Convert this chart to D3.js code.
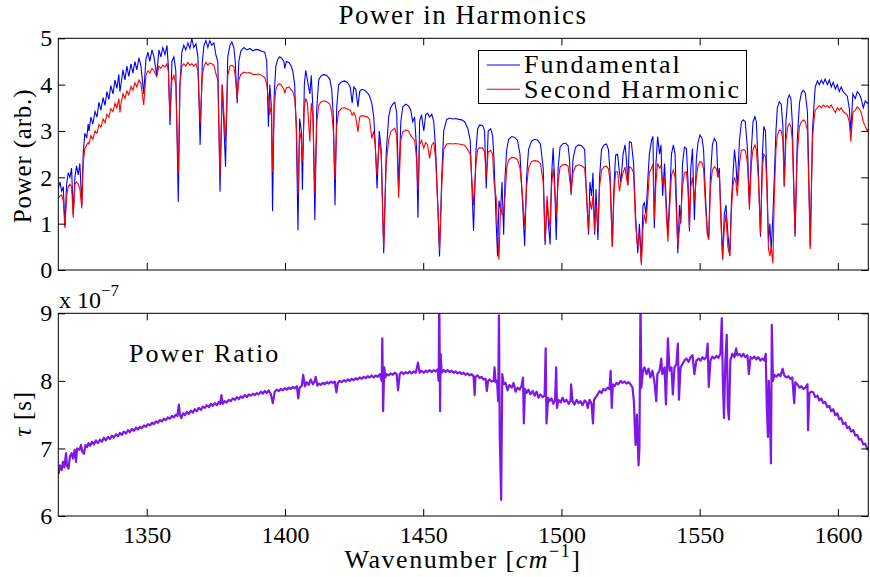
<!DOCTYPE html>
<html>
<head>
<meta charset="utf-8">
<script src="https://cdn.jsdelivr.net/npm/d3@7"></script>
<style>
  body { margin: 0; background: #fff; }
</style>
</head>
<body>
<svg id="chart" width="870" height="577"></svg>
<script>
// wavenumber axis [cm^-1] shared by both panels
const xTicks = [1350, 1400, 1450, 1500, 1550, 1600];
const powerTicks = [0, 1, 2, 3, 4, 5];
const tauTicks = [6, 7, 8, 9];

// spectrum (power in arb. units)
const wavenumber = [
  1318.0,1318.6,1319.2,1319.8,1320.4,1321.0,1321.6,1322.2,1322.8,1323.4,1324.0,1324.6,1325.2,1325.8,1326.5,1327.0,1327.6,1328.3,1328.8,
  1329.1,1329.8,1330.5,1331.3,1332.0,1332.7,1333.4,1334.2,1334.9,1335.6,1336.3,1337.0,1337.8,1338.5,1339.2,1339.9,1340.3,1340.7,
  1341.4,1342.1,1342.8,1343.5,1344.3,1345.0,1345.7,1346.4,1347.2,1347.9,1348.9,1349.7,1350.4,1351.1,1351.9,1352.6,1353.6,1354.4,
  1355.1,1355.8,1356.6,1357.3,1357.8,1358.4,1359.1,1359.8,1360.5,1361.4,1362.0,1362.7,1363.4,1364.1,1364.9,1365.6,1366.3,1367.0,
  1367.8,1368.5,1369.3,1370.1,1370.7,1371.4,1372.1,1372.8,1373.5,1374.3,1375.0,1375.7,1376.5,1377.3,1378.5,1379.3,1380.1,1380.8,
  1381.5,1382.0,1382.7,1383.3,1384.0,1385.1,1386.2,1387.3,1388.4,1389.5,1390.5,1391.6,1392.7,1393.4,1394.0,1394.5,1395.1,1395.5,
  1396.1,1396.7,1397.4,1398.1,1398.8,1399.6,1399.9,1400.5,1401.4,1402.1,1402.8,1403.5,1404.1,1404.7,1405.3,1405.9,1406.3,1407.0,
  1407.5,1408.1,1409.0,1409.5,1410.1,1410.8,1411.5,1412.2,1412.9,1414.0,1415.1,1416.2,1416.9,1417.5,1418.1,1418.7,1419.4,1420.5,
  1421.6,1422.7,1423.6,1424.3,1424.9,1425.6,1426.4,1427.0,1427.8,1428.8,1429.9,1430.6,1431.4,1432.1,1432.6,1433.3,1434.1,1434.8,
  1435.7,1436.6,1437.5,1438.2,1439.0,1439.7,1440.4,1441.1,1441.9,1442.6,1443.7,1444.7,1445.5,1446.2,1446.9,1447.6,1448.1,1448.7,
  1449.4,1450.2,1450.9,1451.6,1452.3,1453.1,1453.8,1454.5,1455.4,1455.9,1456.7,1457.4,1458.5,1459.6,1460.6,1461.7,1462.8,1463.9,
  1465.0,1466.1,1467.0,1468.2,1469.1,1469.7,1470.4,1471.5,1472.2,1472.8,1473.5,1474.4,1475.1,1475.6,1476.4,1476.9,1477.4,1478.0,
  1478.5,1479.1,1479.6,1480.2,1480.9,1482.0,1483.1,1484.1,1485.0,1485.9,1486.7,1487.4,1488.1,1489.2,1490.3,1491.4,1492.4,1493.4,
  1494.1,1494.8,1495.3,1495.9,1496.4,1497.0,1497.5,1498.1,1498.8,1499.5,1500.4,1501.5,1502.4,1502.9,1503.5,1504.2,1505.1,1506.2,
  1507.3,1508.4,1508.9,1509.8,1510.3,1510.9,1511.4,1512.0,1512.5,1513.2,1513.8,1514.5,1515.4,1516.3,1517.0,1517.6,1518.4,1519.0,
  1519.6,1520.3,1521.0,1521.5,1522.3,1523.0,1523.5,1524.0,1524.6,1525.3,1526.1,1526.8,1527.6,1528.2,1528.9,1529.5,1530.0,1530.6,
  1531.3,1531.8,1532.6,1533.1,1533.6,1534.2,1534.8,1535.5,1536.0,1536.6,1537.3,1537.8,1538.5,1539.1,1539.8,1540.5,1541.1,1541.6,
  1542.1,1542.7,1543.2,1543.8,1544.5,1545.2,1545.8,1546.3,1546.8,1547.4,1548.1,1548.8,1549.4,1550.1,1550.8,1551.4,1552.1,1552.8,
  1553.3,1553.9,1554.6,1555.3,1556.1,1556.6,1557.1,1557.7,1558.3,1558.9,1559.5,1560.2,1560.9,1561.5,1562.0,1562.6,1563.1,1563.6,
  1564.4,1565.1,1565.8,1566.5,1567.3,1568.0,1568.7,1569.3,1570.0,1570.5,1571.2,1572.0,1572.7,1573.2,1573.8,1574.3,1574.9,1575.4,
  1575.9,1576.5,1577.0,1577.6,1578.1,1578.8,1579.5,1580.1,1580.6,1581.2,1581.9,1582.4,1583.0,1583.5,1584.5,1585.3,1586.1,1586.8,
  1587.5,1588.2,1589.0,1590.0,1590.8,1591.3,1591.8,1592.6,1593.3,1594.0,1594.7,1595.4,1596.2,1596.9,1597.6,1598.3,1599.1,1599.8,
  1600.5,1601.2,1601.9,1603.4,1604.1,1604.7,1605.4,1606.3,1607.0,1607.7,1608.4,1609.2,1609.9,1610.6,1611.0
];
const fundamental = [
  1.76,1.9,1.7,1.8,0.95,1.85,2.1,2.0,2.2,1.2,2.0,2.25,2.05,2.3,1.4,2.5,2.95,2.85,3.15,
  3.0,3.3,3.15,3.42,3.3,3.62,3.45,3.72,3.55,3.85,3.68,3.98,3.8,4.1,3.92,4.22,3.85,4.02,
  4.32,4.1,4.4,4.18,4.45,4.25,4.5,4.32,4.58,4.4,3.8,4.55,4.7,4.5,4.75,4.6,4.2,4.75,
  4.6,4.8,4.65,4.85,4.4,3.13,4.5,4.6,4.3,1.47,4.0,4.7,4.85,4.75,4.9,4.78,5.0,4.8,
  4.88,4.6,2.7,4.5,4.85,4.95,4.8,4.95,4.85,4.9,4.64,4.5,1.69,4.0,2.23,4.6,4.85,4.92,
  4.8,4.5,3.6,4.5,4.72,4.8,4.75,4.78,4.73,4.76,4.75,4.72,4.7,4.5,3.09,4.0,3.5,1.27,
  3.8,4.4,4.55,4.6,4.57,4.5,4.35,4.5,4.48,4.42,4.3,4.0,3.0,0.86,3.27,3.0,1.73,4.0,
  4.31,4.1,3.8,4.2,3.5,1.08,3.5,4.1,4.18,4.22,4.2,4.12,3.9,3.3,1.4,3.5,4.0,4.06,
  4.08,4.04,3.95,3.6,3.95,3.9,3.52,3.85,3.9,3.88,3.82,3.75,3.6,3.3,2.8,1.76,3.0,2.6,
  0.36,2.5,3.3,3.5,3.58,3.62,3.4,1.76,3.2,3.52,3.58,3.54,3.45,3.2,3.3,2.6,1.13,3.2,
  3.35,3.0,3.35,3.38,3.3,3.36,3.2,2.6,1.2,0.29,2.0,3.0,3.25,3.28,3.26,3.27,3.25,3.24,
  3.2,3.06,2.8,0.84,2.6,3.05,3.13,3.12,3.0,1.76,3.0,3.05,2.9,2.4,1.0,0.29,1.5,1.3,
  1.9,0.76,2.0,2.6,2.82,2.88,2.86,2.8,2.5,1.5,0.52,2.0,2.6,2.78,2.82,2.8,2.72,2.2,
  0.54,1.5,1.0,0.55,2.0,2.63,2.0,0.65,2.2,2.65,2.72,2.74,2.68,2.4,1.62,2.4,2.65,2.7,
  2.68,2.6,1.85,0.76,1.9,1.6,2.1,0.76,1.75,0.65,2.0,2.6,2.7,2.72,2.6,2.1,0.5,1.8,
  2.48,2.5,2.1,1.9,2.5,2.7,2.4,1.83,2.77,2.75,2.3,1.2,0.36,1.0,0.18,1.4,1.45,1.2,
  2.0,2.5,2.8,2.88,0.9,2.3,2.88,2.5,2.7,1.6,2.3,1.6,0.76,1.5,2.5,2.7,2.5,1.5,
  0.36,1.4,1.0,2.3,2.65,2.62,1.9,0.83,2.2,2.62,1.08,2.4,2.75,2.91,2.85,2.6,1.6,0.8,
  0.75,2.0,2.7,2.84,2.75,2.0,2.2,1.2,0.25,1.2,1.4,0.8,0.3,1.5,2.0,2.6,2.3,1.8,
  2.8,3.2,3.24,3.2,2.6,1.4,2.6,3.2,3.31,3.2,2.2,0.72,2.5,3.1,3.0,2.0,0.6,1.0,
  0.4,1.2,2.0,3.0,3.5,3.63,3.58,3.1,1.8,3.2,3.7,3.78,3.7,3.2,0.72,2.8,3.6,3.82,
  3.88,3.82,3.4,0.5,3.0,3.5,3.95,4.08,4.0,4.1,4.02,4.12,4.0,4.1,3.95,4.05,3.9,4.0,
  3.85,3.95,3.85,3.75,3.5,2.98,3.8,3.7,3.85,3.8,3.7,3.5,3.65,3.6,3.62
];
const secondHarmonic = [
  1.55,1.6,1.62,1.5,0.9,1.6,1.8,1.85,1.8,1.13,1.85,1.9,1.85,1.75,1.33,2.3,2.62,2.7,2.75,
  2.72,2.9,2.82,3.0,2.95,3.14,3.08,3.26,3.18,3.36,3.3,3.48,3.42,3.6,3.5,3.7,3.4,3.6,
  3.8,3.7,3.86,3.78,3.96,3.88,4.04,3.95,4.1,4.02,3.56,4.2,4.3,4.25,4.35,4.3,4.17,4.4,
  4.35,4.42,4.38,4.45,4.3,3.31,4.1,4.2,4.0,2.09,4.0,4.4,4.45,4.4,4.48,4.42,4.45,4.4,
  4.45,4.3,3.16,4.2,4.4,4.48,4.42,4.47,4.45,4.42,4.24,4.1,1.98,4.0,2.77,4.2,4.4,4.42,
  4.38,4.2,3.7,4.1,4.22,4.27,4.25,4.26,4.22,4.22,4.23,4.2,4.15,4.0,3.7,3.34,3.6,2.12,
  3.5,3.9,4.0,4.02,3.98,3.9,3.81,3.93,3.95,3.9,3.85,3.7,3.2,1.62,3.0,2.8,2.34,3.5,
  3.7,3.6,2.77,3.6,3.3,1.65,3.2,3.55,3.62,3.65,3.63,3.58,3.4,3.0,1.94,3.1,3.42,3.49,
  3.5,3.47,3.45,3.34,3.4,3.3,2.98,3.3,3.33,3.32,3.3,3.25,2.84,3.0,2.7,2.05,2.8,2.5,
  0.47,2.3,2.8,2.98,3.03,3.06,2.9,1.56,2.8,2.98,3.02,3.0,2.9,2.85,2.8,2.4,1.73,2.7,
  2.8,2.63,2.75,2.7,2.41,2.7,2.75,2.4,1.2,0.43,1.8,2.6,2.72,2.73,2.72,2.73,2.72,2.71,
  2.69,2.6,2.5,1.4,2.3,2.6,2.64,2.63,2.55,2.01,2.55,2.58,2.5,1.9,1.55,0.8,0.22,1.4,
  1.2,1.25,1.6,2.2,2.38,2.43,2.42,2.38,2.2,1.6,0.93,1.8,2.2,2.34,2.36,2.35,2.3,1.9,
  0.61,1.6,1.2,0.9,1.8,2.19,1.8,1.19,1.9,2.22,2.27,2.28,2.24,2.0,1.69,2.1,2.24,2.27,
  2.25,2.2,1.8,0.83,1.5,1.3,1.6,0.83,1.4,0.9,1.8,2.15,2.23,2.24,2.18,1.9,0.5,1.6,
  2.12,2.12,1.7,1.9,2.1,2.22,2.0,1.83,2.23,2.2,2.1,1.0,0.5,0.8,0.11,0.9,1.2,1.0,
  1.6,2.1,2.2,2.28,1.1,1.9,2.3,2.2,2.25,1.85,2.0,1.4,0.61,1.3,2.05,2.16,2.0,1.2,
  0.5,0.9,1.2,1.8,2.1,2.12,1.7,0.9,1.8,2.0,1.5,2.0,2.25,2.34,2.32,2.2,1.4,0.75,
  0.65,1.8,2.15,2.23,2.18,2.0,2.1,1.0,0.22,0.9,1.2,0.5,0.3,1.3,1.8,2.0,1.9,1.6,
  2.3,2.58,2.6,2.58,2.3,1.3,2.3,2.6,2.7,2.6,2.0,0.78,2.2,2.5,2.45,1.8,0.45,0.3,
  0.5,0.14,1.6,2.6,2.9,3.02,3.0,2.8,1.8,2.8,3.1,3.16,3.1,2.8,0.78,2.5,3.1,3.2,
  3.24,3.2,3.0,0.45,2.8,3.2,3.45,3.5,3.55,3.5,3.56,3.52,3.55,3.5,3.56,3.48,3.4,3.5,
  3.45,3.5,3.42,3.35,3.2,2.77,3.4,3.45,3.52,3.48,3.4,3.2,3.1,3.0,3.05
];

// power ratio, in units of 1e-7 s
const ratioWavenumber = [
  1318.1,1318.6,1319.2,1319.7,1320.2,1320.8,1321.1,1321.7,1322.2,1322.8,1323.3,1323.9,1324.4,1324.8,1325.7,1326.2,1326.7,1327.3,
  1327.8,1328.4,1328.9,1329.5,1330.2,1330.9,1331.6,1332.3,1333.1,1333.8,1334.5,1335.2,1336.0,1336.7,1337.4,1338.1,1338.9,1339.6,
  1340.3,1341.0,1341.7,1342.5,1343.2,1343.9,1344.6,1345.4,1346.1,1346.8,1347.5,1348.2,1349.0,1349.7,1350.4,1351.1,1351.9,1352.6,
  1353.3,1354.0,1354.7,1355.5,1356.2,1356.9,1357.6,1358.4,1359.1,1359.8,1360.5,1361.1,1361.6,1362.0,1362.5,1363.1,1363.8,1364.5,
  1365.2,1366.0,1366.7,1367.4,1368.1,1368.8,1369.6,1370.3,1371.0,1371.7,1372.5,1373.2,1373.9,1374.6,1375.4,1376.1,1376.6,1377.0,
  1377.5,1378.2,1378.9,1379.7,1380.4,1381.1,1381.9,1382.6,1383.3,1384.0,1384.7,1385.5,1386.2,1386.9,1387.6,1388.4,1389.1,1389.8,
  1390.5,1391.3,1392.0,1392.7,1393.4,1394.1,1394.9,1395.6,1396.3,1397.0,1397.8,1398.5,1399.2,1399.9,1400.7,1401.4,1402.1,1402.8,
  1403.5,1404.3,1404.8,1405.3,1406.1,1406.6,1407.2,1407.9,1408.6,1409.3,1410.1,1410.8,1411.1,1411.7,1412.2,1412.9,1413.7,1414.4,
  1415.1,1415.8,1416.6,1417.3,1418.0,1418.6,1419.1,1419.8,1420.5,1421.3,1422.0,1422.7,1423.4,1424.1,1424.9,1425.6,1426.3,1427.0,
  1427.8,1428.5,1429.2,1429.9,1430.6,1431.4,1432.1,1432.8,1433.5,1434.3,1435.0,1435.2,1435.5,1435.9,1436.3,1436.8,1437.5,1438.2,
  1439.0,1439.7,1440.4,1440.9,1441.5,1442.2,1442.9,1443.7,1444.4,1445.1,1445.8,1446.5,1447.3,1448.1,1448.7,1449.4,1450.2,1450.9,
  1451.6,1452.3,1453.1,1453.8,1454.5,1455.2,1455.6,1455.8,1456.1,1456.3,1456.7,1457.4,1458.1,1458.8,1459.6,1460.3,1461.0,1461.7,
  1462.5,1463.2,1463.9,1464.6,1465.3,1466.1,1466.8,1467.5,1468.2,1468.6,1468.9,1469.7,1470.4,1471.1,1471.8,1472.6,1473.0,1473.5,
  1474.0,1474.7,1475.5,1475.8,1476.2,1476.7,1477.1,1477.4,1477.7,1478.2,1478.6,1479.1,1479.8,1480.5,1481.2,1482.0,1482.7,1483.4,
  1484.1,1484.9,1485.6,1486.1,1486.4,1486.8,1487.4,1488.1,1488.8,1489.6,1490.3,1491.0,1491.7,1492.4,1493.2,1493.9,1494.3,1494.6,
  1495.2,1495.7,1496.4,1497.1,1497.7,1498.1,1498.4,1498.9,1499.7,1500.4,1501.1,1501.8,1502.6,1503.3,1503.5,1504.0,1504.7,1505.5,
  1506.2,1506.9,1507.6,1508.4,1509.1,1509.5,1510.2,1510.9,1511.4,1511.8,1512.3,1513.1,1513.8,1514.5,1515.2,1515.9,1516.7,1517.4,
  1517.8,1518.2,1518.6,1519.2,1519.9,1520.6,1521.4,1522.1,1522.8,1523.5,1524.3,1525.0,1525.7,1526.2,1526.8,1527.3,1527.9,1528.2,
  1528.6,1528.9,1529.5,1530.0,1530.8,1531.5,1532.2,1532.9,1533.6,1534.3,1534.7,1535.5,1536.1,1536.5,1537.3,1537.8,1538.5,1539.1,
  1539.8,1540.3,1540.9,1541.6,1542.1,1542.5,1543.1,1543.8,1544.5,1545.2,1546.0,1546.7,1547.4,1548.1,1548.8,1549.6,1550.3,1551.0,
  1551.7,1552.4,1552.9,1553.3,1553.9,1554.6,1555.3,1556.1,1556.8,1557.5,1558.0,1558.4,1558.8,1559.3,1559.8,1560.2,1560.6,1561.1,
  1561.8,1562.6,1563.2,1563.6,1564.4,1565.1,1565.8,1566.5,1567.3,1567.8,1568.4,1569.1,1569.8,1570.5,1571.2,1572.0,1572.7,1573.4,
  1573.9,1574.3,1574.7,1575.0,1575.4,1575.8,1576.1,1576.5,1577.0,1577.7,1578.5,1579.2,1580.0,1580.6,1581.4,1582.1,1582.8,1583.5,
  1584.2,1584.6,1585.3,1586.1,1586.8,1587.5,1588.2,1589.0,1589.2,1589.7,1590.4,1591.1,1591.8,1592.6,1593.3,1594.0,1594.7,1595.4,
  1596.2,1596.9,1597.6,1598.3,1599.1,1599.8,1600.5,1601.2,1601.9,1602.7,1603.4,1604.1,1604.8,1605.6,1606.3,1607.0,1607.7,1608.4,
  1609.2,1609.9,1610.6,1611.0
];
const ratio = [
  6.62,6.75,6.68,6.8,6.72,6.93,6.75,6.7,6.88,6.93,6.85,6.98,6.8,7.0,6.98,7.05,6.95,6.92,
  7.05,7.02,7.08,7.04,7.1,7.06,7.12,7.08,7.13,7.1,7.16,7.12,7.17,7.14,7.19,7.16,7.21,7.18,
  7.23,7.2,7.25,7.22,7.27,7.24,7.29,7.26,7.31,7.28,7.32,7.3,7.34,7.32,7.36,7.34,7.38,7.36,
  7.4,7.38,7.42,7.4,7.44,7.42,7.46,7.44,7.48,7.46,7.5,7.48,7.65,7.5,7.45,7.52,7.49,7.54,
  7.51,7.56,7.53,7.58,7.55,7.6,7.57,7.62,7.6,7.64,7.61,7.66,7.63,7.67,7.64,7.69,7.66,7.79,
  7.66,7.7,7.68,7.72,7.7,7.74,7.72,7.76,7.73,7.77,7.75,7.79,7.76,7.8,7.78,7.81,7.79,7.82,
  7.8,7.84,7.81,7.85,7.82,7.86,7.8,7.67,7.84,7.87,7.85,7.88,7.86,7.89,7.87,7.9,7.88,7.91,
  7.89,7.92,7.74,7.9,7.93,8.09,7.92,7.98,7.94,8.02,7.95,8.0,8.06,7.93,7.96,7.94,7.97,7.95,
  7.98,7.96,7.99,7.97,7.99,7.83,7.97,8.0,7.98,8.01,7.99,8.02,8.0,8.03,8.01,8.04,8.02,8.05,
  8.03,8.06,8.04,8.07,8.05,8.08,8.05,8.08,8.06,8.1,8.0,8.63,7.55,8.2,8.05,8.1,8.08,8.11,
  8.09,8.12,8.1,7.86,8.1,8.13,8.1,8.13,8.11,8.14,8.11,8.14,8.12,8.27,8.12,8.15,8.12,8.15,
  8.13,8.16,8.13,8.16,8.14,8.17,8.0,9.3,7.55,8.4,8.12,8.16,8.13,8.16,8.13,8.15,8.12,8.14,
  8.11,8.13,8.1,8.12,8.09,8.11,8.08,8.1,8.07,7.79,8.06,8.08,8.04,8.06,8.02,8.03,7.85,8.0,
  8.02,7.99,8.0,8.2,7.98,8.0,7.7,8.97,7.15,6.24,8.1,7.95,7.97,7.86,7.94,7.9,7.97,7.84,
  7.9,7.87,7.93,8.05,7.37,7.88,7.82,7.87,7.8,7.85,7.78,7.84,7.75,7.8,7.76,7.78,8.48,7.37,
  7.75,7.7,7.74,7.66,7.72,8.2,7.6,7.72,7.68,7.75,7.69,7.72,7.66,7.71,7.95,7.7,7.65,7.72,
  7.67,7.7,7.64,7.71,7.68,7.6,7.72,7.66,7.37,7.72,7.75,7.8,7.85,7.82,7.88,7.86,7.9,7.88,
  8.15,7.6,7.95,7.92,7.97,7.95,8.0,7.97,7.99,7.96,7.98,7.95,7.9,7.7,7.05,7.5,6.75,7.0,
  9.2,7.9,8.15,8.2,8.1,8.18,8.05,8.15,8.0,7.7,8.1,8.15,8.33,8.1,8.2,7.65,8.63,8.15,
  8.2,7.8,8.2,8.25,8.55,7.72,8.2,8.25,8.3,8.33,8.28,8.35,8.38,8.1,8.3,8.33,8.3,8.35,
  8.32,8.35,8.55,7.91,8.3,8.36,8.33,8.37,8.34,8.4,8.93,8.0,7.45,8.3,8.68,7.6,7.43,8.3,
  8.4,8.35,8.48,8.38,8.4,8.36,8.4,8.35,8.38,8.1,8.35,8.33,8.36,8.32,8.35,8.3,8.33,8.3,
  8.4,7.6,7.17,8.0,7.5,6.78,8.83,8.0,8.09,8.06,8.1,8.07,8.18,8.08,8.05,8.07,8.03,8.05,
  7.67,7.98,7.95,7.9,7.92,7.88,7.9,7.95,7.27,7.82,7.84,7.83,7.76,7.78,7.71,7.74,7.67,7.69,
  7.61,7.63,7.55,7.58,7.49,7.52,7.43,7.45,7.36,7.38,7.3,7.32,7.25,7.27,7.19,7.2,7.13,7.14,
  7.06,7.07,6.99,6.98
];

const SERIF = "Liberation Serif";
const svg = d3.select("#chart");
const left = 58.3, right = 868.3;
const topPanel = {top: 38.3, bottom: 270};
const botPanel = {top: 313.3, bottom: 516};

const x = d3.scaleLinear().domain([1318, 1611]).range([left, right]);
const yPower = d3.scaleLinear().domain([0, 5]).range([topPanel.bottom, topPanel.top]);
const yTau = d3.scaleLinear().domain([6, 9]).range([botPanel.bottom, botPanel.top]);

svg.append("rect").attr("width", 870).attr("height", 577).attr("fill", "#fff");

// small helper so every label gets the serif face
function label(sel, size) {
    return sel.append("text").attr("font-family", SERIF).attr("font-size", size).attr("fill", "#000");
}

// clip each panel so spikes stop at the frame
function addClip(id, p) {
    svg.append("clipPath").attr("id", id)
        .append("rect")
        .attr("x", left).attr("y", p.top)
        .attr("width", right - left).attr("height", p.bottom - p.top);
}
addClip("clipTop", topPanel);
addClip("clipBot", botPanel);

// axes with inward ticks on all four sides (matlab style)
function drawAxes(p, yScale, yTicks, showX) {
    const g = svg.append("g").attr("class", "axes");
    g.append("g").attr("transform", `translate(0,${p.bottom})`)
        .call(d3.axisBottom(x).tickValues(xTicks).tickSize(-7).tickSizeOuter(0).tickPadding(10)
            .tickFormat(showX ? d3.format("d") : () => ""));
    g.append("g").attr("transform", `translate(0,${p.top})`)
        .call(d3.axisTop(x).tickValues(xTicks).tickSize(-7).tickSizeOuter(0).tickFormat(() => ""));
    g.append("g").attr("transform", `translate(${left},0)`)
        .call(d3.axisLeft(yScale).tickValues(yTicks).tickSize(-7).tickSizeOuter(0).tickPadding(6)
            .tickFormat(d3.format("d")));
    g.append("g").attr("transform", `translate(${right},0)`)
        .call(d3.axisRight(yScale).tickValues(yTicks).tickSize(-7).tickSizeOuter(0).tickFormat(() => ""));
    g.selectAll(".domain").remove();
    g.selectAll(".tick line").attr("stroke", "#000").attr("stroke-width", 1);
    g.selectAll(".tick text")
        .attr("font-family", SERIF).attr("font-size", 24).attr("fill", "#000");
    g.append("rect")
        .attr("x", left).attr("y", p.top)
        .attr("width", right - left).attr("height", p.bottom - p.top)
        .attr("fill", "none").attr("stroke", "#000").attr("stroke-width", 1);
}

// top panel: power in harmonics
const spectrum = wavenumber.map((w, i) => ({w: w, f: fundamental[i], s: secondHarmonic[i]}));
const plotTop = svg.append("g").attr("clip-path", "url(#clipTop)");
plotTop.append("path")
    .datum(spectrum)
    .attr("fill", "none").attr("stroke", "#0000ff").attr("stroke-width", 1.1)
    .attr("d", d3.line().x(d => x(d.w)).y(d => yPower(d.f)));
plotTop.append("path")
    .datum(spectrum)
    .attr("fill", "none").attr("stroke", "#ff0000").attr("stroke-width", 1.1)
    .attr("d", d3.line().x(d => x(d.w)).y(d => yPower(d.s)));
drawAxes(topPanel, yPower, powerTicks, false);

// bottom panel: ratio
const ratioData = ratioWavenumber.map((w, i) => ({w: w, r: ratio[i]}));
svg.append("g").attr("clip-path", "url(#clipBot)")
    .append("path")
    .datum(ratioData)
    .attr("fill", "none").attr("stroke", "#7f17e6").attr("stroke-width", 2.2)
    .attr("stroke-linejoin", "round")
    .attr("d", d3.line().x(d => x(d.w)).y(d => yTau(d.r)));
drawAxes(botPanel, yTau, tauTicks, true);

// titles and labels
label(svg, 27)
    .attr("x", 463).attr("y", 24).attr("text-anchor", "middle")
    .attr("letter-spacing", 1.5)
    .text("Power in Harmonics");

label(svg, 25)
    .attr("transform", "translate(31,156) rotate(-90)").attr("text-anchor", "middle")
    .attr("letter-spacing", 0.8)
    .text("Power (arb.)");

const tauLabel = label(svg, 25)
    .attr("transform", "translate(31,414) rotate(-90)").attr("text-anchor", "middle")
    .attr("letter-spacing", 0.8);
tauLabel.append("tspan").attr("font-style", "italic").text("τ");
tauLabel.append("tspan").text(" [s]");

const expo = label(svg, 24).attr("x", 59).attr("y", 308);
expo.append("tspan").text("x 10");
expo.append("tspan").attr("dy", -12).attr("font-size", 17).text("−7");

label(svg, 26)
    .attr("x", 129).attr("y", 362)
    .attr("letter-spacing", 2)
    .text("Power Ratio");

const xLabel = label(svg, 26)
    .attr("x", 463).attr("y", 568).attr("text-anchor", "middle")
    .attr("letter-spacing", 1.5);
xLabel.append("tspan").text("Wavenumber [");
xLabel.append("tspan").attr("font-style", "italic").text("cm");
xLabel.append("tspan").attr("dy", -11).attr("font-size", 18).text("−1");
xLabel.append("tspan").attr("dy", 11).text("]");

// legend
const legendItems = [
    {label: "Fundamental", color: "#0000ff"},
    {label: "Second Harmonic", color: "#ff0000"}
];
const legend = svg.append("g");
legend.append("rect")
    .attr("x", 478.5).attr("y", 50.5).attr("width", 268).attr("height", 53)
    .attr("fill", "#fff").attr("stroke", "#000").attr("stroke-width", 1);
legendItems.forEach((item, i) => {
    legend.append("line")
        .attr("x1", 486.7).attr("x2", 520)
        .attr("y1", 65 + i * 24.3).attr("y2", 65 + i * 24.3)
        .attr("stroke", item.color).attr("stroke-width", 1.1);
    label(legend, 26)
        .attr("x", 524).attr("y", 73.3 + i * 24.3)
        .attr("letter-spacing", 2)
        .text(item.label);
});
</script>
</body>
</html>
